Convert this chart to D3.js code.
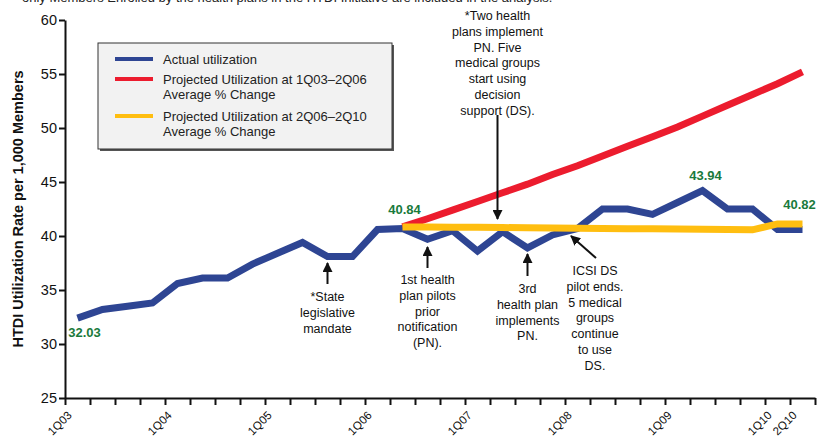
<!DOCTYPE html>
<html>
<head>
<meta charset="utf-8">
<script src="https://cdn.jsdelivr.net/npm/d3@7"></script>
<style>
  body { margin: 0; background: #fff; }
  text { font-family: "Liberation Sans", Arial, sans-serif; }
</style>
</head>
<body>
<script>
const width = 825;
const height = 436;

// quarters 1Q03..2Q10
const quarters = ["1Q03","2Q03","3Q03","4Q03","1Q04","2Q04","3Q04","4Q04",
  "1Q05","2Q05","3Q05","4Q05","1Q06","2Q06","3Q06","4Q06",
  "1Q07","2Q07","3Q07","4Q07","1Q08","2Q08","3Q08","4Q08",
  "1Q09","2Q09","3Q09","4Q09","1Q10","2Q10"];

const actual = [32.4, 33.2, 33.5, 33.8, 35.6, 36.1, 36.1, 37.4, 38.4, 39.4,
  38.1, 38.1, 40.6, 40.7, 39.7, 40.5, 38.6, 40.4, 38.9, 40.1,
  40.7, 42.5, 42.5, 42.0, 43.1, 44.2, 42.5, 42.5, 40.6, 40.6];

// projections start at 2Q06 (index 13)
const projStart = 13;
const projected1 = [40.84, 41.6, 42.4, 43.2, 44.0, 44.8, 45.7, 46.5, 47.4,
  48.3, 49.2, 50.1, 51.1, 52.1, 53.1, 54.1, 55.2];
const projected2 = [40.84, 40.83, 40.81, 40.80, 40.78, 40.76, 40.74, 40.72, 40.70,
  40.68, 40.66, 40.64, 40.62, 40.60, 40.57, 41.12, 41.12];

const yTicks = [25, 30, 35, 40, 45, 50, 55, 60];

const valueLabels = [
  { q: 0, text: "32.03", dx: 7, dy: 19 },
  { q: 13, text: "40.84", dx: 2, dy: -14 },
  { q: 25, text: "43.94", dx: 3, dy: -11 },
  { q: 29, text: "40.82", dx: -3, dy: -15 }
];

const legendItems = [
  { color: "#2e4593", lines: ["Actual utilization"] },
  { color: "#ec1c2e", lines: ["Projected Utilization at 1Q03\u20132Q06", "Average % Change"] },
  { color: "#ffbe10", lines: ["Projected Utilization at 2Q06\u20132Q10", "Average % Change"] }
];

const notes = [
  { q: 10.5, lines: ["*State", "legislative", "mandate"], textY: 297, from: [0, 284], to: [0, 263] },
  { q: 14.5, lines: ["1st health", "plan pilots", "prior", "notification", "(PN)."], textY: 280, from: [0, 268], to: [0, 247] },
  { q: 18.5, lines: ["3rd", "health plan", "implements", "PN."], textY: 289, from: [0, 276], to: [0, 254] },
  { q: 21.2, lines: ["ICSI DS", "pilot ends.", "5 medical", "groups", "continue", "to use", "DS."], textY: 271, from: [1, 258], to: [-24, 236] },
  { q: 17.3, lines: ["*Two health", "plans implement", "PN. Five", "medical groups", "start using", "decision", "support (DS)."], textY: 16, from: [0, 115], to: [0, 219] }
];

const svg = d3.select("body").append("svg")
  .attr("width", width)
  .attr("height", height);

svg.append("rect").attr("width", width).attr("height", height).attr("fill", "#fff");

// clipped header text
svg.append("text")
  .attr("x", 22)
  .attr("y", 2)
  .attr("font-size", 13)
  .attr("fill", "#222")
  .text("only Members Enrolled by the health plans in the HTDI Initiative are included in the analysis.");

const x = d3.scaleLinear().domain([0, 30]).range([65, 815]);
const y = d3.scaleLinear().domain([25, 60]).range([398, 20]);

// y axis
const yAxis = svg.append("g")
  .attr("transform", `translate(${x(0)},0)`)
  .call(d3.axisLeft(y).tickValues(yTicks).tickSize(6).tickSizeOuter(0));
yAxis.select(".domain").attr("stroke", "#111").attr("stroke-width", 2);
yAxis.selectAll(".tick line").attr("stroke", "#111").attr("stroke-width", 2);
yAxis.selectAll(".tick text").attr("font-size", 14.5).attr("fill", "#111")
  .attr("font-family", "Liberation Sans, Arial, sans-serif").attr("x", -8);

// x axis
const xAxis = svg.append("g")
  .attr("transform", `translate(0,${y(25)})`)
  .call(d3.axisBottom(x).tickValues(d3.range(0, 31)).tickSize(7).tickSizeOuter(0)
    .tickFormat(i => {
      const q = quarters[i];
      return q && (q.startsWith("1Q") || q === "2Q10") ? q : "";
    }));
xAxis.select(".domain").attr("stroke", "#111").attr("stroke-width", 2);
xAxis.selectAll(".tick line").attr("stroke", "#111").attr("stroke-width", 2);
xAxis.selectAll(".tick text")
  .attr("font-size", 11.5)
  .attr("fill", "#111")
  .attr("font-family", "Liberation Sans, Arial, sans-serif")
  .attr("text-anchor", "end")
  .attr("dy", null)
  .attr("y", 0)
  .attr("transform", "translate(7,18) rotate(-45)");

// y title
svg.append("text")
  .attr("transform", `translate(23,${y(42.5)}) rotate(-90)`)
  .attr("text-anchor", "middle")
  .attr("font-size", 14.5)
  .attr("font-weight", "bold")
  .attr("fill", "#111")
  .text("HTDI Utilization Rate per 1,000 Members");

// lines
const line = d3.line()
  .x(d => x(d.i + 0.5))
  .y(d => y(d.v))
  .curve(d3.curveLinear);

const actualPts = actual.map((v, i) => ({ i, v }));
const proj1Pts = projected1.map((v, j) => ({ i: projStart + j, v }));
const proj2Pts = projected2.map((v, j) => ({ i: projStart + j, v }));

svg.append("path").datum(actualPts).attr("d", line)
  .attr("fill", "none").attr("stroke", legendItems[0].color).attr("stroke-width", 7)
  .attr("stroke-linejoin", "miter");
svg.append("path").datum(proj1Pts).attr("d", line)
  .attr("fill", "none").attr("stroke", legendItems[1].color).attr("stroke-width", 7);
svg.append("path").datum(proj2Pts).attr("d", line)
  .attr("fill", "none").attr("stroke", legendItems[2].color).attr("stroke-width", 7);

// value labels
svg.selectAll(".vlabel")
  .data(valueLabels)
  .enter()
  .append("text")
  .attr("class", "vlabel")
  .attr("x", d => x(d.q + 0.5) + d.dx)
  .attr("y", d => y(d.q === 0 ? actual[0] : d.q === 29 ? projected2[projected2.length - 1] : actual[d.q]) + d.dy)
  .attr("text-anchor", "middle")
  .attr("font-size", 13)
  .attr("font-weight", "bold")
  .attr("fill", "#1a7a3c")
  .text(d => d.text);

// arrow marker
svg.append("defs").append("marker")
  .attr("id", "arrow")
  .attr("viewBox", "0 0 10 10")
  .attr("refX", 9).attr("refY", 5)
  .attr("markerWidth", 5).attr("markerHeight", 5)
  .attr("orient", "auto")
  .append("path").attr("d", "M0,0 L10,5 L0,10 z").attr("fill", "#111");

const noteG = svg.selectAll(".note")
  .data(notes)
  .enter()
  .append("g")
  .attr("class", "note");

noteG.append("line")
  .attr("x1", d => x(d.q) + d.from[0])
  .attr("y1", d => d.from[1])
  .attr("x2", d => x(d.q) + d.to[0])
  .attr("y2", d => d.to[1])
  .attr("stroke", "#111")
  .attr("stroke-width", 2)
  .attr("marker-end", "url(#arrow)");

noteG.append("text")
  .attr("text-anchor", "middle")
  .attr("font-size", 12.5)
  .attr("fill", "#111")
  .attr("y", d => d.textY)
  .selectAll("tspan")
  .data(d => d.lines.map(l => ({ l, q: d.q })))
  .enter()
  .append("tspan")
  .attr("x", d => x(d.q))
  .attr("dy", (d, i) => i === 0 ? 4 : 15.8)
  .text(d => d.l);

// legend
const legend = svg.append("g").attr("transform", "translate(98,43)");
legend.append("rect")
  .attr("x", 2).attr("y", 2)
  .attr("width", 294).attr("height", 106)
  .attr("fill", "#555");
legend.append("rect")
  .attr("width", 294).attr("height", 106)
  .attr("fill", "#f2f2f2")
  .attr("stroke", "#333")
  .attr("stroke-width", 1);

const rowY = [16, 36, 73];
const li = legend.selectAll(".li")
  .data(legendItems)
  .enter()
  .append("g")
  .attr("transform", (d, i) => `translate(0,${rowY[i]})`);
li.append("line")
  .attr("x1", 17).attr("x2", 55)
  .attr("y1", 0).attr("y2", 0)
  .attr("stroke", d => d.color)
  .attr("stroke-width", 4);
li.append("text")
  .attr("font-size", 13)
  .attr("fill", "#222")
  .selectAll("tspan")
  .data(d => d.lines)
  .enter()
  .append("tspan")
  .attr("x", 65)
  .attr("y", (d, i) => 5 + i * 14.5)
  .text(d => d);
</script>
</body>
</html>
